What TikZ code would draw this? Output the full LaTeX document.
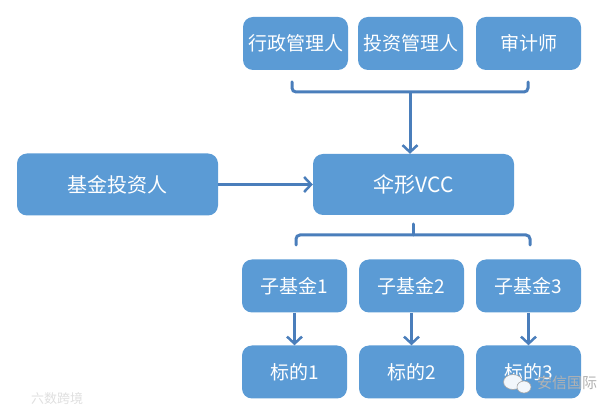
\documentclass[tikz,border=0pt]{standalone}
\usepackage{fontspec}
\setmainfont{Noto Sans CJK SC}
\usetikzlibrary{arrows.meta, shapes.geometric}
\definecolor{boxblue}{HTML}{5B9BD5}
\definecolor{linkblue}{HTML}{4A7EBB}
\tikzset{
    box/.style={fill=boxblue, text=white, rounded corners=10pt, inner sep=0pt,
            minimum height=53pt, minimum width=105pt, font=\fontsize{19}{19}\selectfont},
    bigbox/.style={box, minimum height=62pt, minimum width=201pt, font=\fontsize{20}{20}\selectfont},
    link/.style={draw=linkblue, line width=3pt},
    arrow/.style={link, -{Straight Barb[length=7pt, width=15pt, line width=2.5pt]}},
    bracket/.style={link, rounded corners=4pt, line cap=round},
    bubble/.style={draw=gray!70, fill=white!92!boxblue, line width=.6pt},
}
\begin{document}
\begin{tikzpicture}[x=1pt, y=-1pt]
    \useasboundingbox (0,0) rectangle (616,411);
    % top row
    \node[box] (admin) at (295.5,43.5) {行政管理人};
    \node[box] (manager) at (410.5,43.5) {投资管理人};
    \node[box] (auditor) at (528.5,43.5) {审计师};
    % middle row
    \node[bigbox] (investor) at (117.5,184.5) {基金投资人};
    \node[bigbox, minimum height=61pt, font=\fontsize{21}{21}\selectfont] (vcc) at (413.5,184.5) {伞形VCC};
    % bottom rows
    \foreach \n/\x in {1/294.5,2/411.5,3/528.5}{
            \node[box] (fund\n) at (\x,286) {子基金\n};
            \node[box] (asset\n) at (\x,372) {标的\n};
            \draw[arrow] (fund\n) -- (asset\n);
        }
    % brackets
    \coordinate (topl) at (292,82);
    \coordinate (topr) at (528,82);
    \coordinate (topm) at (410,92);
    \coordinate (botl) at (296,245);
    \coordinate (botr) at (530,245);
    \coordinate (botm) at (413,224);
    \draw[bracket] (topl) |- (topm) -| (topr);
    \draw[arrow] (topm) -- (topm |- vcc.north);
    \draw[bracket] (botl) -- ++(0,-10) -| (botr);
    \draw[link, line cap=round] (botm) -- ++(0,11);
    \draw[arrow] (investor) -- (vcc);
    % watermarks
    \node[bubble, ellipse, minimum width=19pt, minimum height=15pt, inner sep=0pt] (bubbleA) at (513,382) {};
    \node[bubble, ellipse, minimum width=14pt, minimum height=12pt, inner sep=0pt] (bubbleB) at (524,387) {};
    \node[text=gray!60!white, font=\fontsize{15}{15}\selectfont, inner sep=0pt] (mark) at (567,383) {安信国际};
    \node[text=gray!25, font=\fontsize{13}{13}\selectfont, inner sep=0pt] (side) at (57,399) {六数跨境};
\end{tikzpicture}
\end{document}
